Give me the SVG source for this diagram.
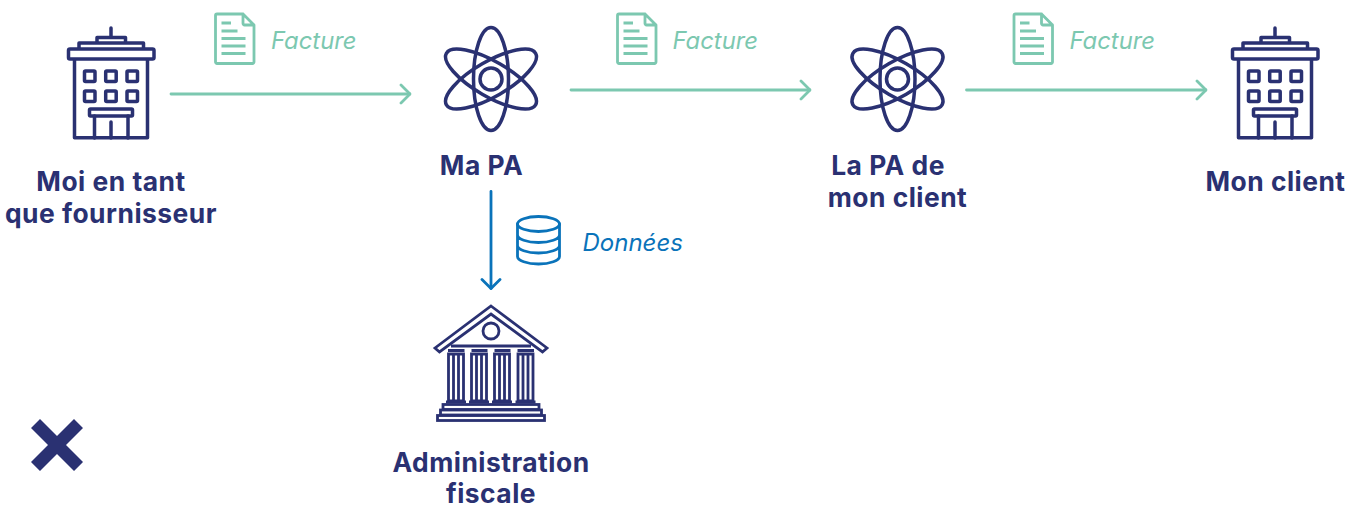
<svg xmlns="http://www.w3.org/2000/svg" width="1355" height="505" viewBox="0 0 1355 505">
<style>
text{font-family:Inter,"Liberation Sans",sans-serif}
.lab{font-size:26.400px;font-weight:700;fill:#2a3172;text-anchor:middle;letter-spacing:.5px}
.fac{font-size:23.800px;font-style:italic;fill:#7cc8b0}
.don{font-size:24px;font-style:italic;fill:#0a73ba}
.navy{fill:none;stroke:#2a3172;stroke-width:3.500;stroke-linejoin:round;stroke-linecap:round}
.thin{fill:none;stroke:#2a3172;stroke-width:2.800;stroke-linejoin:miter}
.grn{fill:none;stroke:#7cc8b0;stroke-width:2.800;stroke-linecap:round;stroke-linejoin:round}
.blu{fill:none;stroke:#0a73ba;stroke-width:2.800;stroke-linecap:round;stroke-linejoin:round}
</style>
<defs>
<g id="building" class="navy">
<path d="M111 28V37M97 42V37.500H125.500V42M79 48V43H143.500V48"/>
<rect x="68.500" y="49" width="85.500" height="10" rx="1.500"/>
<path d="M74.500 59V137.800H147.500V59" stroke-linecap="butt"/>
<rect x="84.500" y="71" width="10.500" height="10.500" rx="1"/><rect x="105.700" y="71" width="10.500" height="10.500" rx="1"/><rect x="127" y="71" width="10.500" height="10.500" rx="1"/>
<rect x="84.500" y="91" width="10.500" height="10.500" rx="1"/><rect x="105.700" y="91" width="10.500" height="10.500" rx="1"/><rect x="127" y="91" width="10.500" height="10.500" rx="1"/>
<rect x="89.500" y="109" width="43" height="7" rx="1"/>
<path d="M94.500 116V138M128 116V138M111 122V138"/>
</g>
<g id="atom" class="navy">
<ellipse cx="0" cy="0" rx="17.500" ry="51.500"/>
<ellipse cx="0" cy="0" rx="17.500" ry="51.500" transform="rotate(60)"/>
<ellipse cx="0" cy="0" rx="17.500" ry="51.500" transform="rotate(-60)"/>
<circle cx="0" cy="0" r="11"/>
</g>
<g id="doc" class="grn">
<path d="M217 14H243L254 25V62A1.500 1.500 0 0 1 252.500 63.500H217A1.500 1.500 0 0 1 215.500 62V15.500A1.500 1.500 0 0 1 217 14ZM243 14V23.500A1.500 1.500 0 0 0 244.500 25H254"/>
<path d="M221.500 23H231M221.500 31H237.500M221.500 38.500H245.500M221.500 46H245.500M221.500 53.500H245.500" stroke-linecap="butt"/>
</g>
<marker id="ag" viewBox="0 0 12 22" refX="11" refY="11" markerWidth="12" markerHeight="22" markerUnits="userSpaceOnUse" orient="auto"><path d="M2 2L11 11L2 20" fill="none" stroke="#7cc8b0" stroke-width="2.800" stroke-linecap="round" stroke-linejoin="round"/></marker>
<marker id="ab" viewBox="0 0 12 22" refX="11" refY="11" markerWidth="12" markerHeight="22" markerUnits="userSpaceOnUse" orient="auto"><path d="M2 2L11 11L2 20" fill="none" stroke="#0a73ba" stroke-width="2.800" stroke-linecap="round" stroke-linejoin="round"/></marker>
</defs>
<g id="connectors">
<path class="grn" d="M171 94H410" marker-end="url(#ag)"/>
<path class="grn" d="M571 90H810" marker-end="url(#ag)"/>
<path class="grn" d="M966.500 90H1206" marker-end="url(#ag)"/>
<path class="blu" d="M491 191.500V288.500" marker-end="url(#ab)"/>
</g>
<g id="node-fournisseur"><use href="#building"/><text class="lab" x="111" y="190.500">Moi en tant</text><text class="lab" x="111" y="222.500">que fournisseur</text></g>
<g id="node-ma-pa"><use href="#atom" x="491" y="79"/><text class="lab" x="481.500" y="174.500">Ma PA</text></g>
<g id="node-pa-client"><use href="#atom" x="897.500" y="79"/><text class="lab" x="888" y="174.500">La PA de</text><text class="lab" x="897.500" y="206.500">mon client</text></g>
<g id="node-client"><use href="#building" x="1164"/><text class="lab" x="1275.500" y="190.500">Mon client</text></g>
<g id="node-admin">
<path class="thin" d="M491 306L547 348L542.500 352L491 314L439.500 352L435 348Z"/>
<path class="thin" d="M451 346H531M448 350.500H464.500M471.500 350.500H487.500M494.500 350.500H510.500M517.500 350.500H534"/>
<circle class="thin" cx="491" cy="331" r="8"/>
<g class="thin" id="cols">
<path d="M448.500 354H463.500V401H448.500ZM453.500 354V401M458.500 354V401"/>
<path d="M471.500 354H486.500V401H471.500ZM476.500 354V401M481.500 354V401"/>
<path d="M494.500 354H509.500V401H494.500ZM499.500 354V401M504.500 354V401"/>
<path d="M518 354H533V401H518ZM523 354V401M528 354V401"/>
<path d="M446 402H466M469 402H489M492 402H512M515.500 402H535.500"/>
<rect x="443" y="404.500" width="96" height="5"/>
<rect x="440.500" y="410" width="101" height="5"/>
<rect x="437.500" y="415.500" width="107" height="5"/>
</g>
<text class="lab" x="491" y="471.500">Administration</text><text class="lab" x="491" y="503">fiscale</text>
</g>
<g id="label-facture-1"><use href="#doc"/><text class="fac" x="271" y="48.500">Facture</text></g>
<g id="label-facture-2"><use href="#doc" x="402"/><text class="fac" x="672.500" y="48.500">Facture</text></g>
<g id="label-facture-3"><use href="#doc" x="798.500"/><text class="fac" x="1069.500" y="48.500">Facture</text></g>
<g id="label-donnees">
<g class="blu"><ellipse cx="538.500" cy="224" rx="21" ry="7.500"/><path d="M517.500 224V256.500C517.500 260.500 527 264 538.500 264S559.500 260.500 559.500 256.500V224M517.500 235C517.500 239 527 242.500 538.500 242.500S559.500 239 559.500 235M517.500 245.500C517.500 249.500 527 253 538.500 253S559.500 249.500 559.500 245.500"/></g>
<text class="don" x="582.500" y="251">Données</text>
</g>
<path id="cross" d="M40 419L57 436L74 419L83 428L66 445L83 462L74 471L57 454L40 471L31 462L48 445L31 428Z" fill="#2a3172"/>
</svg>
